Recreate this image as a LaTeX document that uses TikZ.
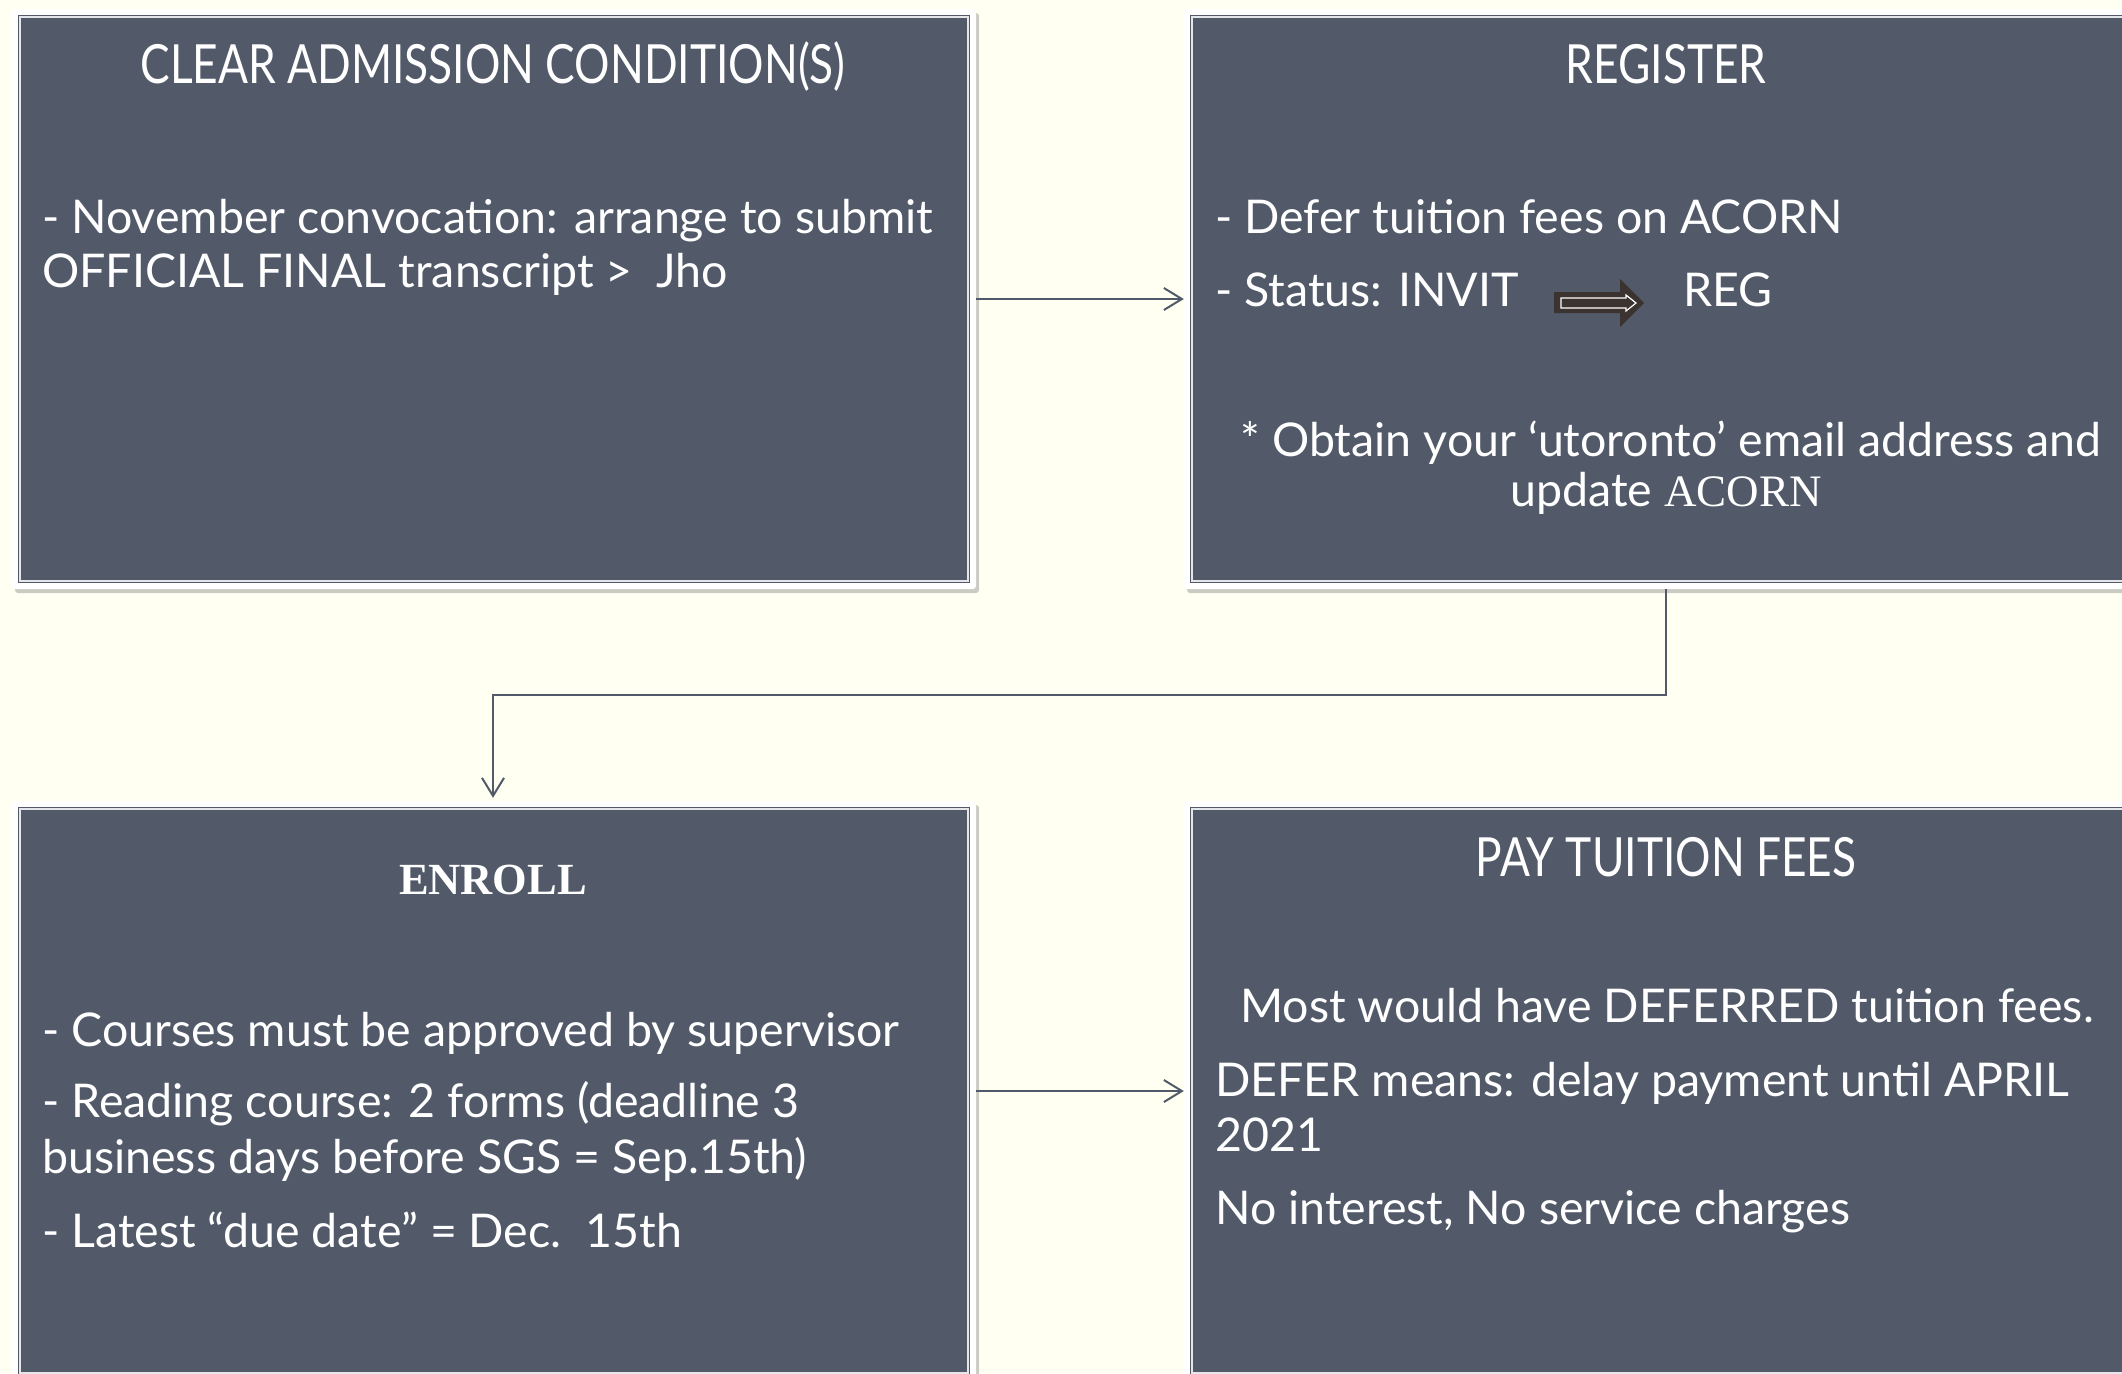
\documentclass[tikz,border=0pt]{standalone}
\usepackage{fontspec}
\setmainfont{Lato}
\newfontfamily\titlefont[FakeStretch=0.82]{Lato}
\newfontfamily\serifont{Liberation Serif}
\usetikzlibrary{arrows.meta,shadows}
\definecolor{slate}{HTML}{525A6A}
\definecolor{bgc}{HTML}{FFFFF2}
\definecolor{arrowdark}{HTML}{3A3330}
\begin{document}
\begin{tikzpicture}[x=1pt,y=-1pt,
  frame/.style={fill=white, rounded corners=3pt, minimum width=964pt, minimum height=580pt, inner sep=0pt,
    drop shadow={shadow xshift=3pt, shadow yshift=-4pt, fill=black!45, opacity=0.45}},
  panel/.style={fill=slate, draw=slate, double=white!85!slate, double distance=1.2pt, line width=1.5pt,
    minimum width=948pt, minimum height=564pt, inner sep=0pt},
  txt/.style={text=white, inner sep=0pt, font=\fontsize{46.5}{55}\selectfont},
  ttl/.style={text=white, inner sep=0pt, anchor=base, font=\titlefont\fontsize{54}{60}\selectfont},
  conn/.style={draw=slate, line width=2pt, -{Straight Barb[length=18pt,width=22pt,line width=2pt]}}
]
\path[use as bounding box, fill=bgc] (0,0) rectangle (2122,1373);
\clip (0,0) rectangle (2122,1373);

% frames
\node[frame] (b1) at (494,299) {};
\node[frame] (b2) at (1666,299) {};
\node[frame] (b3) at (494,1091) {};
\node[frame] (b4) at (1666,1091) {};
\node[panel] (p1) at (b1.center) {};
\node[panel] (p2) at (b2.center) {};
\node[panel] (p3) at (b3.center) {};
\node[panel] (p4) at (b4.center) {};

% box 1
\node[ttl] (h1) at (493,83) {CLEAR ADMISSION CONDITION(S)};
\node[txt, anchor=base west] (t1a) at (42,233) {- November convocation: arrange to submit};
\node[txt, anchor=base west] (t1b) at (42,287) {OFFICIAL FINAL transcript >\ \ Jho};

% box 2
\node[ttl] (h2) at (1666,83) {REGISTER};
\node[txt, anchor=base west] (t2a) at (1215,233) {- Defer tuition fees on ACORN};
\node[txt, anchor=base west] (t2b) at (1215,306) {- Status: INVIT};
\fill[arrowdark] (1554,292) -- (1620,292) -- (1620,279) -- (1644,303) -- (1620,327) -- (1620,313) -- (1554,313) -- cycle;
\draw[white, line width=1.2pt, fill=arrowdark] (1561,298) -- (1626,298) -- (1626,295) -- (1636,303) -- (1626,311) -- (1626,308) -- (1561,308) -- cycle;
\node[txt, anchor=base west] (t2c) at (1683,306) {REG};
\node[txt, anchor=base] (t2d) at (1671,456) {* Obtain your ‘utoronto’ email address and};
\node[txt, anchor=base] (t2e) at (1666,506) {update {\serifont\fontsize{45}{50}\selectfont ACORN}};

% box 3
\node[text=white, inner sep=0pt, anchor=base, font=\serifont\bfseries\fontsize{44.5}{50}\selectfont] (h3) at (493,894) {ENROLL};
\node[txt, anchor=base west] (t3a) at (42,1046) {- Courses must be approved by supervisor};
\node[txt, anchor=base west] (t3b) at (42,1117) {- Reading course: 2 forms (deadline 3};
\node[txt, anchor=base west] (t3c) at (42,1173) {business days before SGS = Sep.15th)};
\node[txt, anchor=base west] (t3d) at (42,1247) {- Latest “due date” = Dec.\ \ 15th};

% box 4
\node[ttl] (h4) at (1666,876) {PAY TUITION FEES};
\node[txt, anchor=base west] (t4a) at (1240,1022) {Most would have DEFERRED tuition fees.};
\node[txt, anchor=base west] (t4b) at (1215,1096) {DEFER means: delay payment until APRIL};
\node[txt, anchor=base west] (t4c) at (1215,1151) {2021};
\node[txt, anchor=base west] (t4d) at (1215,1224) {No interest, No service charges};

% connectors
\draw[conn] (b1.east) -- (b2.west);
\coordinate (k1) at (1666,695);
\coordinate (k2) at (493,695);
\draw[conn, shorten >=3pt] (b2.south) -- (k1) -- (k2) -- (k2 |- b3.north);
\draw[conn] (b3.east) -- (b4.west);
\end{tikzpicture}
\end{document}
